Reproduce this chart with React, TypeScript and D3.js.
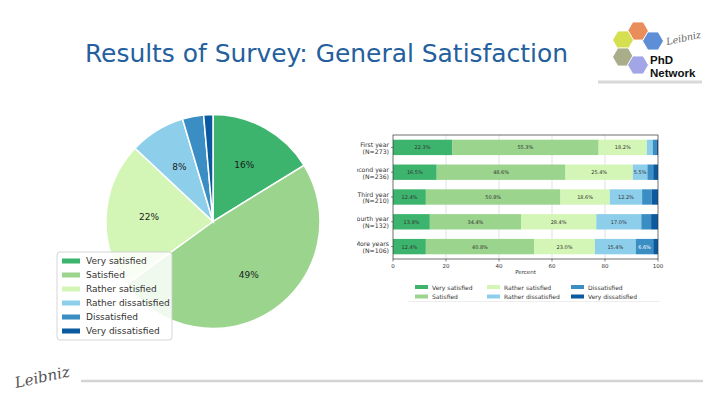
import React from "react";
import * as d3 from "d3";

const categories = ["Very satisfied", "Satisfied", "Rather satisfied", "Rather dissatisfied", "Dissatisfied", "Very dissatisfied"];
const pieValues = [16.2, 48.8, 22.0, 8.4, 3.2, 1.4];
const colors = ["#3db46d", "#9bd48d", "#d3f6b6", "#8dcfeb", "#3b8ec4", "#0b5a9f"];

const years = ["First year", "Second year", "Third year", "Fourth year", "More years"];
const yearN = [273, 236, 210, 132, 106];
const veryS = [22.3, 16.5, 12.4, 13.9, 12.4];
const satis = [55.3, 48.6, 50.8, 34.4, 40.8];
const ratherS = [18.2, 25.4, 18.6, 28.4, 23.0];
const ratherD = [2.2, 5.5, 12.2, 17.0, 15.4];
const dissat = [1.4, 2.2, 3.6, 3.7, 6.6];
const veryD = [0.6, 1.8, 2.4, 2.6, 1.8];
const xTicks = [0, 20, 40, 60, 80, 100];

const title = "Results of Survey: General Satisfaction";

export default function App() {
  // Pie
  const cx = 213, cy = 221.5, r = 107;
  const pie = d3.pie<number>().sort(null).value((d) => d)(pieValues);
  const arc = d3.arc<d3.PieArcDatum<number>>().innerRadius(0).outerRadius(r);
  const labelArc = d3.arc<d3.PieArcDatum<number>>().innerRadius(r * 0.6).outerRadius(r * 0.6);

  // Bars
  const x = d3.scaleLinear().domain([0, 100]).range([393, 658]);
  const y = d3.scaleBand().domain(years).range([135, 259]).paddingInner(0.38).paddingOuter(0.19);
  const series = [veryS, satis, ratherS, ratherD, dissat, veryD];
  const table = years.map((yr, i) => {
    const o: any = { year: yr };
    categories.forEach((c, k) => (o[c] = series[k][i]));
    return o;
  });
  const stacked = d3.stack<any>().keys(categories)(table);

  const hexes = [
    { x: 638, y: 31, c: "#e98d5b" },
    { x: 623, y: 40, c: "#d6df4f" },
    { x: 653, y: 41, c: "#5e8fd6" },
    { x: 623, y: 57, c: "#a9ad8a" },
    { x: 638, y: 65, c: "#a2a6e6" },
  ];
  const hexPath = (hx: number, hy: number, hr: number) => {
    const pts = d3.range(6).map((k) => {
      const a = (Math.PI / 3) * k;
      return [hx + hr * Math.cos(a), hy + hr * Math.sin(a)];
    });
    return "M" + pts.map((p) => p.join(",")).join("L") + "Z";
  };

  const barLegendPos = [
    [415, 287], [415, 296.5], [487, 287], [487, 296.5], [571, 287], [571, 296.5],
  ];

  return (
    <svg width={720} height={405} style={{ position: "absolute", left: 0, top: 0, background: "#fff" }}
      fontFamily="DejaVu Sans">
      <defs>
        <clipPath id="barclip">
          <rect x={357} y={125} width={320} height={185} />
        </clipPath>
      </defs>
      {/* Title */}
      <text x={85} y={62} fontFamily="DejaVu Sans Condensed, DejaVu Sans" fontSize={24} fill="#24609e"
        textLength={483} lengthAdjust="spacingAndGlyphs">{title}</text>

      {/* Logo */}
      {hexes.map((h, i) => (
        <path key={i} d={hexPath(h.x, h.y, 10.5)} fill={h.c} stroke="#fff" strokeWidth={1} />
      ))}
      <text x={650} y={64} fontFamily="Liberation Sans" fontWeight="bold" fontSize={11.5} fill="#111">PhD</text>
      <text x={650} y={77} fontFamily="Liberation Sans" fontWeight="bold" fontSize={11.5} fill="#111">Network</text>
      <text x={667} y={45} fontFamily="DejaVu Serif" fontStyle="italic" fontSize={9.5} fill="#666"
        transform="rotate(-12 667 45)">Leibniz</text>
      <rect x={598} y={80.5} width={104} height={3} fill="#d8d8d8" />

      {/* Pie */}
      <g transform={`translate(${cx},${cy})`}>
        {pie.map((p, i) => (
          <path key={i} d={arc(p) || ""} fill={colors[i]} stroke="#fff" strokeWidth={1.5} />
        ))}
        {pie.map((p, i) => {
          if (p.data < 5) return null;
          const [lx, ly] = labelArc.centroid(p);
          return (
            <text key={i} x={lx} y={ly} textAnchor="middle" dominantBaseline="central" fontSize={9} fill="#1a1a1a">
              {Math.round(p.data)}%
            </text>
          );
        })}
      </g>

      {/* Pie legend */}
      <rect x={57} y={252} width={115} height={88} rx={3} fill="#fff" fillOpacity={0.85} stroke="#cccccc" strokeWidth={0.8} />
      {categories.map((c, i) => (
        <g key={c}>
          <rect x={62} y={258.5 + i * 14} width={18} height={5} fill={colors[i]} />
          <text x={86} y={261 + i * 14} dominantBaseline="central" fontSize={9} fill="#333">{c}</text>
        </g>
      ))}

      {/* Bar chart */}
      <g clipPath="url(#barclip)">
        {xTicks.slice(1, -1).map((t) => (
          <line key={t} x1={x(t)} x2={x(t)} y1={135} y2={259} stroke="#cfcfcf" strokeWidth={0.6} />
        ))}
        {stacked.map((s, k) => (
          <g key={k}>
            {s.map((d, i) => {
              const x0 = x(d[0]), x1 = x(d[1]);
              const yy = y(years[i])!;
              const v = d[1] - d[0];
              return (
                <g key={i}>
                  <rect x={x0} y={yy} width={x1 - x0} height={y.bandwidth()} fill={colors[k]} />
                  {v >= 5 && (
                    <text x={(x0 + x1) / 2} y={yy + y.bandwidth() / 2} textAnchor="middle" dominantBaseline="central"
                      fontSize={5} fill={k >= 4 ? "#fff" : "#333"}>{v.toFixed(1)}%</text>
                  )}
                </g>
              );
            })}
          </g>
        ))}
        <rect x={393} y={135} width={265} height={124} fill="none" stroke="#333" strokeWidth={0.7} />
        {xTicks.map((t) => (
          <g key={t}>
            <line x1={x(t)} x2={x(t)} y1={259} y2={261.5} stroke="#333" strokeWidth={0.6} />
            <text x={x(t)} y={265.5} textAnchor="middle" dominantBaseline="central" fontSize={5.5} fill="#333">{t}</text>
          </g>
        ))}
        <text x={(393 + 658) / 2} y={271.5} textAnchor="middle" dominantBaseline="central" fontSize={5.5} fill="#333">Percent</text>
        {years.map((yr, i) => {
          const c = y(yr)! + y.bandwidth() / 2;
          return (
            <g key={yr}>
              <line x1={391} x2={393} y1={c} y2={c} stroke="#333" strokeWidth={0.6} />
              <text x={389} y={c - 3} textAnchor="end" dominantBaseline="central" fontSize={6.2} fill="#333">{yr}</text>
              <text x={389} y={c + 3.8} textAnchor="end" dominantBaseline="central" fontSize={6.2} fill="#333">(N={yearN[i]})</text>
            </g>
          );
        })}
        {categories.map((c, i) => (
          <g key={c}>
            <rect x={barLegendPos[i][0]} y={barLegendPos[i][1] - 2} width={13} height={4} fill={colors[i]} />
            <text x={barLegendPos[i][0] + 17} y={barLegendPos[i][1]} dominantBaseline="central" fontSize={6} fill="#333">{c}</text>
          </g>
        ))}
        <line x1={408} x2={660} y1={301.5} y2={301.5} stroke="#e0e0e0" strokeWidth={0.6} />
      </g>

      {/* Footer */}
      <line x1={81} x2={703} y1={381} y2={381} stroke="#d4d4d4" strokeWidth={2.5} />
      <text x={16} y={388} fontFamily="DejaVu Serif" fontStyle="italic" fontSize={15} fill="#555"
        transform="rotate(-12 16 388)">Leibniz</text>
    </svg>
  );
}
